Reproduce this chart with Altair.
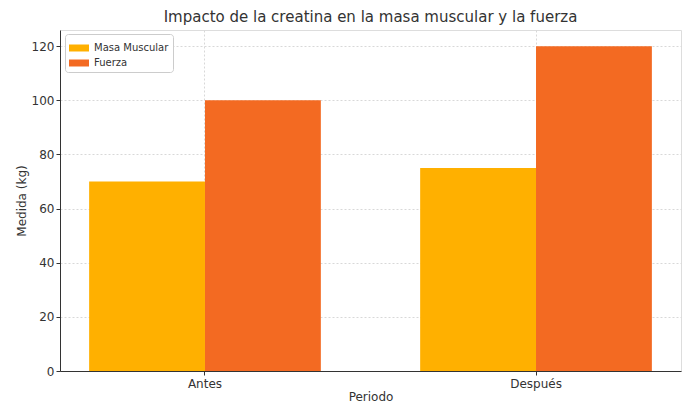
import altair as alt
import pandas as pd

periodos = ["Antes", "Después"]
series = ["Masa Muscular", "Fuerza"]
masa = [70, 75]
fuerza = [100, 120]
colores = ["#FFB000", "#F36A22"]
y_ticks = [0, 20, 40, 60, 80, 100, 120]

rows = []
for i, p in enumerate(periodos):
    rows.append({"Periodo": p, "Serie": series[0], "Valor": masa[i]})
    rows.append({"Periodo": p, "Serie": series[1], "Valor": fuerza[i]})
df = pd.DataFrame(rows)

font = "DejaVu Sans"

chart = alt.Chart(df).mark_bar(stroke=None).encode(
    x=alt.X("Periodo:N", sort=periodos, title="Periodo",
            scale=alt.Scale(paddingInner=0.3, paddingOuter=0.088),
            axis=alt.Axis(labelAngle=0, grid=True, gridDash=[2, 2], gridColor="#d8d8d8",
                          tickColor="#333", domainColor="#333", labelFontSize=12,
                          titleFontSize=12, labelColor="#333", titleColor="#333",
                          titleFontWeight="normal",
                          titlePadding=2, labelPadding=3, tickSize=4, labelFont=font, titleFont=font)),
    xOffset=alt.XOffset("Serie:N", sort=series),
    y=alt.Y("Valor:Q", title="Medida (kg)",
            scale=alt.Scale(domain=[0, 126], nice=False),
            axis=alt.Axis(values=y_ticks, grid=True, gridDash=[2, 2], gridColor="#d8d8d8",
                          tickColor="#333", domainColor="#333", labelFontSize=12,
                          titleFontSize=12, labelColor="#333", titleColor="#333",
                          titleFontWeight="normal",
                          titlePadding=3, labelPadding=2, tickSize=4, labelFont=font, titleFont=font)),
    color=alt.Color("Serie:N", sort=series, scale=alt.Scale(domain=series, range=colores),
                    legend=alt.Legend(title=None, orient="none", legendX=5, legendY=4,
                                      fillColor="white", strokeColor="#cccccc", cornerRadius=3,
                                      padding=4, labelFontSize=10, labelFont=font, labelColor="#333",
                                      symbolType="M-1,-0.35L1,-0.35L1,0.35L-1,0.35Z", symbolSize=400,
                                      symbolStrokeWidth=0, rowPadding=0, labelOffset=5)),
).properties(
    width=621, height=341,
    title=alt.TitleParams("Impacto de la creatina en la masa muscular y la fuerza",
                          fontSize=15, font=font, fontWeight="normal", color="#333", offset=5),
    autosize=alt.AutoSizeParams(type="none"),
    padding={"left": 52, "top": 22, "right": 7, "bottom": 31},
).configure_view(stroke=None).configure(background="white")

chart.save("out.html", embed_options={"renderer": "svg", "actions": False})
